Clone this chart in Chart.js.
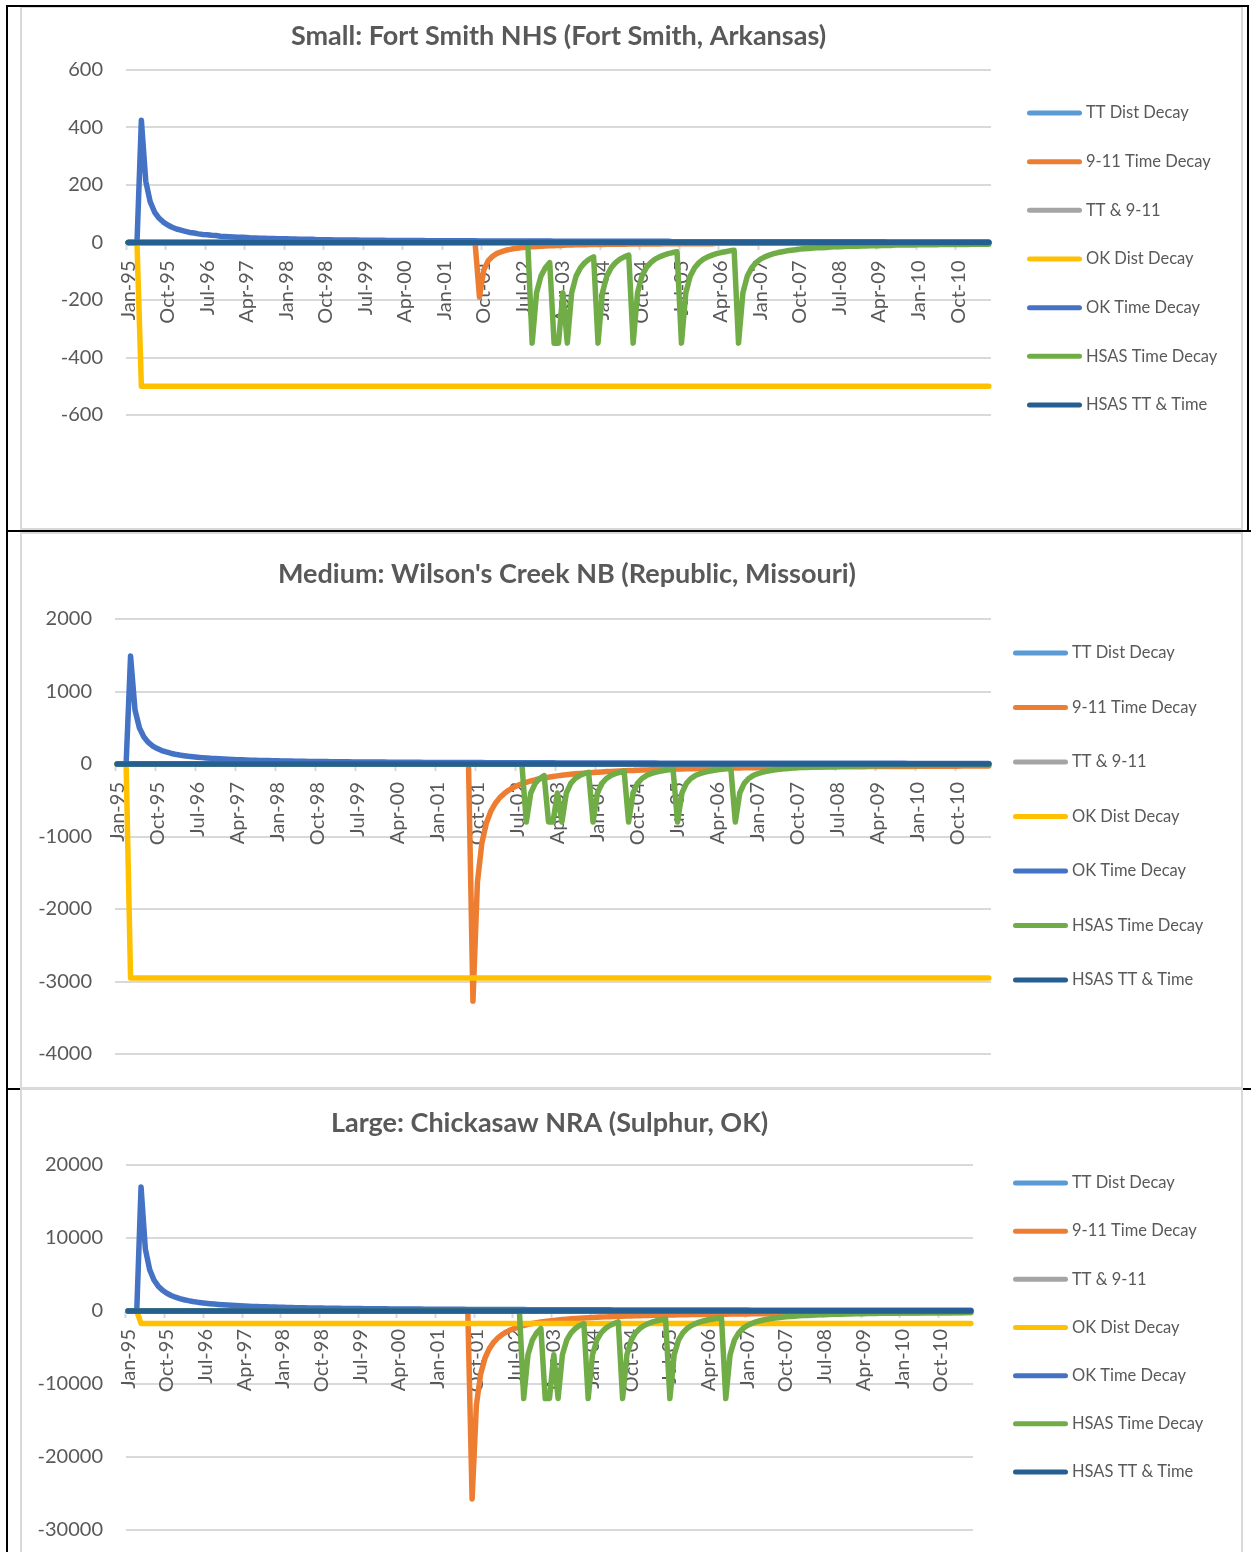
<!DOCTYPE html>
<html>
<head>
<meta charset="utf-8">
<title>Visitation effects at three NPS units</title>
<script src="https://cdn.jsdelivr.net/npm/chart.js@4.4.1/dist/chart.umd.min.js"></script>
<style>
  html, body { margin: 0; padding: 0; background: #fff; }
  body { width: 1251px; height: 1552px; position: relative; overflow: hidden; }
  .panel { position: absolute; box-sizing: border-box; border: 2px solid #d9d9d9; background: #fff; }
  .rule { position: absolute; background: #000; }
  canvas { position: absolute; left: 0; }
</style>
</head>
<body>
<div class="panel" style="left:20px;top:6px;width:1223px;height:524px"></div>
<div class="panel" style="left:20px;top:532px;width:1223px;height:557px"></div>
<div class="panel" style="left:20px;top:1088px;width:1223px;height:480px"></div>

<canvas id="small" width="1251" height="522" style="top:7px"></canvas>
<canvas id="medium" width="1251" height="555" style="top:533px"></canvas>
<canvas id="large" width="1251" height="462" style="top:1090px"></canvas>

<div class="rule" style="left:6px;top:5px;width:2px;height:1547px"></div>
<div class="rule" style="left:6px;top:5px;width:1243px;height:2px"></div>
<div class="rule" style="left:1247px;top:5px;width:2px;height:527px"></div>
<div class="rule" style="left:6px;top:530px;width:1245px;height:2px"></div>
<div class="rule" style="left:6px;top:1088px;width:14px;height:2px"></div>
<div class="rule" style="left:1243px;top:1088px;width:8px;height:2px"></div>

<script>
// ---- Category axis: monthly, Jan-95 onwards ----
const MONTHS = ['Jan', 'Feb', 'Mar', 'Apr', 'May', 'Jun', 'Jul', 'Aug', 'Sep', 'Oct', 'Nov', 'Dec'];
const YEARS = ['95', '96', '97', '98', '99', '00', '01', '02', '03', '04', '05', '06', '07', '08', '09', '10', '11'];
const LABEL_EVERY = 9; // one axis label every 9 months

const SERIES_NAMES = ['TT Dist Decay', '9-11 Time Decay', 'TT & 9-11', 'OK Dist Decay',
                      'OK Time Decay', 'HSAS Time Decay', 'HSAS TT & Time'];
const TITLES = ['Small: Fort Smith NHS (Fort Smith, Arkansas)',
                "Medium: Wilson's Creek NB (Republic, Missouri)",
                'Large: Chickasaw NRA (Sulphur, OK)'];

// Series with no visible effect (one row per year, Jan-95 .. May-11)
const noEffect = [
  0,0,0,0,0,0,0,0,0,0,0,0,
  0,0,0,0,0,0,0,0,0,0,0,0,
  0,0,0,0,0,0,0,0,0,0,0,0,
  0,0,0,0,0,0,0,0,0,0,0,0,
  0,0,0,0,0,0,0,0,0,0,0,0,
  0,0,0,0,0,0,0,0,0,0,0,0,
  0,0,0,0,0,0,0,0,0,0,0,0,
  0,0,0,0,0,0,0,0,0,0,0,0,
  0,0,0,0,0,0,0,0,0,0,0,0,
  0,0,0,0,0,0,0,0,0,0,0,0,
  0,0,0,0,0,0,0,0,0,0,0,0,
  0,0,0,0,0,0,0,0,0,0,0,0,
  0,0,0,0,0,0,0,0,0,0,0,0,
  0,0,0,0,0,0,0,0,0,0,0,0,
  0,0,0,0,0,0,0,0,0,0,0,0,
  0,0,0,0,0,0,0,0,0,0,0,0,
  0,0,0,0,0
];

// ---- Small: Fort Smith NHS ----
const smallNineEleven = [
  0,0,0,0,0,0,0,0,0,0,0,0,
  0,0,0,0,0,0,0,0,0,0,0,0,
  0,0,0,0,0,0,0,0,0,0,0,0,
  0,0,0,0,0,0,0,0,0,0,0,0,
  0,0,0,0,0,0,0,0,0,0,0,0,
  0,0,0,0,0,0,0,0,0,0,0,0,
  0,0,0,0,0,0,0,0,-190,-95,-63,-48,
  -38,-32,-27,-24,-21,-19,-17,-16,-15,-14,-13,-12,
  -11,-11,-10,-10,-9,-9,-8,-8,-8,-7,-7,-7,
  -7,-6,-6,-6,-6,-6,-5,-5,-5,-5,-5,-5,
  -5,-5,-4,-4,-4,-4,-4,-4,-4,-4,-4,-4,
  -4,-4,-3,-3,-3,-3,-3,-3,-3,-3,-3,-3,
  -3,-3,-3,-3,-3,-3,-3,-3,-3,-3,-3,-3,
  -2,-2,-2,-2,-2,-2,-2,-2,-2,-2,-2,-2,
  -2,-2,-2,-2,-2,-2,-2,-2,-2,-2,-2,-2,
  -2,-2,-2,-2,-2,-2,-2,-2,-2,-2,-2,-2,
  -2,-2,-2,-2,-2
];
const smallOkDist = [
  0,0,0,-500,-500,-500,-500,-500,-500,-500,-500,-500,
  -500,-500,-500,-500,-500,-500,-500,-500,-500,-500,-500,-500,
  -500,-500,-500,-500,-500,-500,-500,-500,-500,-500,-500,-500,
  -500,-500,-500,-500,-500,-500,-500,-500,-500,-500,-500,-500,
  -500,-500,-500,-500,-500,-500,-500,-500,-500,-500,-500,-500,
  -500,-500,-500,-500,-500,-500,-500,-500,-500,-500,-500,-500,
  -500,-500,-500,-500,-500,-500,-500,-500,-500,-500,-500,-500,
  -500,-500,-500,-500,-500,-500,-500,-500,-500,-500,-500,-500,
  -500,-500,-500,-500,-500,-500,-500,-500,-500,-500,-500,-500,
  -500,-500,-500,-500,-500,-500,-500,-500,-500,-500,-500,-500,
  -500,-500,-500,-500,-500,-500,-500,-500,-500,-500,-500,-500,
  -500,-500,-500,-500,-500,-500,-500,-500,-500,-500,-500,-500,
  -500,-500,-500,-500,-500,-500,-500,-500,-500,-500,-500,-500,
  -500,-500,-500,-500,-500,-500,-500,-500,-500,-500,-500,-500,
  -500,-500,-500,-500,-500,-500,-500,-500,-500,-500,-500,-500,
  -500,-500,-500,-500,-500,-500,-500,-500,-500,-500,-500,-500,
  -500,-500,-500,-500,-500
];
const smallOkTime = [
  0,0,0,425,213,142,106,85,71,61,53,47,
  43,39,35,33,30,28,27,25,24,22,21,20,
  19,18,18,17,16,16,15,15,14,14,13,13,
  13,12,12,11,11,11,11,10,10,10,10,9,
  9,9,9,9,9,8,8,8,8,8,8,7,
  7,7,7,7,7,7,7,7,6,6,6,6,
  6,6,6,6,6,6,6,6,5,5,5,5,
  5,5,5,5,5,5,5,5,5,5,5,5,
  5,4,4,4,4,4,4,4,4,4,4,4,
  4,4,4,4,4,4,4,4,4,4,4,4,
  4,4,4,4,3,3,3,3,3,3,3,3,
  3,3,3,3,3,3,3,3,3,3,3,3,
  3,3,3,3,3,3,3,3,3,3,3,3,
  3,3,3,3,3,3,3,3,3,3,3,3,
  3,3,3,3,3,2,2,2,2,2,2,2,
  2,2,2,2,2,2,2,2,2,2,2,2,
  2,2,2,2,2
];
const smallHsasTime = [
  0,0,0,0,0,0,0,0,0,0,0,0,
  0,0,0,0,0,0,0,0,0,0,0,0,
  0,0,0,0,0,0,0,0,0,0,0,0,
  0,0,0,0,0,0,0,0,0,0,0,0,
  0,0,0,0,0,0,0,0,0,0,0,0,
  0,0,0,0,0,0,0,0,0,0,0,0,
  0,0,0,0,0,0,0,0,0,0,0,0,
  0,0,0,0,0,0,0,0,-350,-175,-117,-88,
  -70,-350,-350,-175,-350,-175,-117,-88,-70,-58,-50,-350,
  -175,-117,-88,-70,-58,-50,-44,-350,-175,-117,-88,-70,
  -58,-50,-44,-39,-35,-32,-350,-175,-117,-88,-70,-58,
  -50,-44,-39,-35,-32,-29,-27,-350,-175,-117,-88,-70,
  -58,-50,-44,-39,-35,-32,-29,-27,-25,-23,-22,-21,
  -19,-18,-18,-17,-16,-15,-15,-14,-13,-13,-13,-12,
  -12,-11,-11,-11,-10,-10,-10,-9,-9,-9,-9,-9,
  -8,-8,-8,-8,-8,-7,-7,-7,-7,-7,-7,-7,
  -6,-6,-6,-6,-6
];

// ---- Medium: Wilson's Creek NB ----
const mediumNineEleven = [
  0,0,0,0,0,0,0,0,0,0,0,0,
  0,0,0,0,0,0,0,0,0,0,0,0,
  0,0,0,0,0,0,0,0,0,0,0,0,
  0,0,0,0,0,0,0,0,0,0,0,0,
  0,0,0,0,0,0,0,0,0,0,0,0,
  0,0,0,0,0,0,0,0,0,0,0,0,
  0,0,0,0,0,0,0,0,-3270,-1635,-1090,-818,
  -654,-545,-467,-409,-363,-327,-297,-273,-252,-234,-218,-204,
  -192,-182,-172,-164,-156,-149,-142,-136,-131,-126,-121,-117,
  -113,-109,-105,-102,-99,-96,-93,-91,-88,-86,-84,-82,
  -80,-78,-76,-74,-73,-71,-70,-68,-67,-65,-64,-63,
  -62,-61,-59,-58,-57,-56,-55,-55,-54,-53,-52,-51,
  -50,-50,-49,-48,-47,-47,-46,-45,-45,-44,-44,-43,
  -42,-42,-41,-41,-40,-40,-39,-39,-38,-38,-38,-37,
  -37,-36,-36,-36,-35,-35,-34,-34,-34,-33,-33,-33,
  -32,-32,-32,-31,-31,-31,-31,-30,-30,-30,-29,-29,
  -29,-29,-28,-28,-28
];
const mediumOkDist = [
  0,0,0,-2950,-2950,-2950,-2950,-2950,-2950,-2950,-2950,-2950,
  -2950,-2950,-2950,-2950,-2950,-2950,-2950,-2950,-2950,-2950,-2950,-2950,
  -2950,-2950,-2950,-2950,-2950,-2950,-2950,-2950,-2950,-2950,-2950,-2950,
  -2950,-2950,-2950,-2950,-2950,-2950,-2950,-2950,-2950,-2950,-2950,-2950,
  -2950,-2950,-2950,-2950,-2950,-2950,-2950,-2950,-2950,-2950,-2950,-2950,
  -2950,-2950,-2950,-2950,-2950,-2950,-2950,-2950,-2950,-2950,-2950,-2950,
  -2950,-2950,-2950,-2950,-2950,-2950,-2950,-2950,-2950,-2950,-2950,-2950,
  -2950,-2950,-2950,-2950,-2950,-2950,-2950,-2950,-2950,-2950,-2950,-2950,
  -2950,-2950,-2950,-2950,-2950,-2950,-2950,-2950,-2950,-2950,-2950,-2950,
  -2950,-2950,-2950,-2950,-2950,-2950,-2950,-2950,-2950,-2950,-2950,-2950,
  -2950,-2950,-2950,-2950,-2950,-2950,-2950,-2950,-2950,-2950,-2950,-2950,
  -2950,-2950,-2950,-2950,-2950,-2950,-2950,-2950,-2950,-2950,-2950,-2950,
  -2950,-2950,-2950,-2950,-2950,-2950,-2950,-2950,-2950,-2950,-2950,-2950,
  -2950,-2950,-2950,-2950,-2950,-2950,-2950,-2950,-2950,-2950,-2950,-2950,
  -2950,-2950,-2950,-2950,-2950,-2950,-2950,-2950,-2950,-2950,-2950,-2950,
  -2950,-2950,-2950,-2950,-2950,-2950,-2950,-2950,-2950,-2950,-2950,-2950,
  -2950,-2950,-2950,-2950,-2950
];
const mediumOkTime = [
  0,0,0,1490,745,497,373,298,248,213,186,166,
  149,135,124,115,106,99,93,88,83,78,75,71,
  68,65,62,60,57,55,53,51,50,48,47,45,
  44,43,41,40,39,38,37,36,35,35,34,33,
  32,32,31,30,30,29,29,28,28,27,27,26,
  26,25,25,24,24,24,23,23,23,22,22,22,
  21,21,21,20,20,20,20,19,19,19,19,18,
  18,18,18,18,17,17,17,17,17,16,16,16,
  16,16,16,15,15,15,15,15,15,14,14,14,
  14,14,14,14,14,13,13,13,13,13,13,13,
  13,13,12,12,12,12,12,12,12,12,12,12,
  11,11,11,11,11,11,11,11,11,11,11,11,
  10,10,10,10,10,10,10,10,10,10,10,10,
  10,10,10,9,9,9,9,9,9,9,9,9,
  9,9,9,9,9,9,9,9,9,9,8,8,
  8,8,8,8,8,8,8,8,8,8,8,8,
  8,8,8,8,8
];
const mediumHsasTime = [
  0,0,0,0,0,0,0,0,0,0,0,0,
  0,0,0,0,0,0,0,0,0,0,0,0,
  0,0,0,0,0,0,0,0,0,0,0,0,
  0,0,0,0,0,0,0,0,0,0,0,0,
  0,0,0,0,0,0,0,0,0,0,0,0,
  0,0,0,0,0,0,0,0,0,0,0,0,
  0,0,0,0,0,0,0,0,0,0,0,0,
  0,0,0,0,0,0,0,0,-800,-400,-267,-200,
  -160,-800,-800,-400,-800,-400,-267,-200,-160,-133,-114,-800,
  -400,-267,-200,-160,-133,-114,-100,-800,-400,-267,-200,-160,
  -133,-114,-100,-89,-80,-73,-800,-400,-267,-200,-160,-133,
  -114,-100,-89,-80,-73,-67,-62,-800,-400,-267,-200,-160,
  -133,-114,-100,-89,-80,-73,-67,-62,-57,-53,-50,-47,
  -44,-42,-40,-38,-36,-35,-33,-32,-31,-30,-29,-28,
  -27,-26,-25,-24,-24,-23,-22,-22,-21,-21,-20,-20,
  -19,-19,-18,-18,-17,-17,-17,-16,-16,-16,-15,-15,
  -15,-15,-14,-14,-14
];

// ---- Large: Chickasaw NRA ----
const largeNineEleven = [
  0,0,0,0,0,0,0,0,0,0,0,0,
  0,0,0,0,0,0,0,0,0,0,0,0,
  0,0,0,0,0,0,0,0,0,0,0,0,
  0,0,0,0,0,0,0,0,0,0,0,0,
  0,0,0,0,0,0,0,0,0,0,0,0,
  0,0,0,0,0,0,0,0,0,0,0,0,
  0,0,0,0,0,0,0,0,-25750,-12875,-8583,-6438,
  -5150,-4292,-3679,-3219,-2861,-2575,-2341,-2146,-1981,-1839,-1717,-1609,
  -1515,-1431,-1355,-1288,-1226,-1170,-1120,-1073,-1030,-990,-954,-920,
  -888,-858,-831,-805,-780,-757,-736,-715,-696,-678,-660,-644,
  -628,-613,-599,-585,-572,-560,-548,-536,-526,-515,-505,-495,
  -486,-477,-468,-460,-452,-444,-436,-429,-422,-415,-409,-402,
  -396,-390,-384,-379,-373,-368,-363,-358,-353,-348,-343,-339,
  -334,-330,-326,-322,-318,-314,-310,-307,-303,-299,-296,-293,
  -289,-286,-283,-280,-277,-274,-271,-268,-265,-263,-260,-258,
  -255,-252,-250,-248,-245,-243,-241,-238,-236,-234,-232,-230,
  -228,-226,-224,-222,-220
];
const largeOkDist = [
  0,0,0,-1700,-1700,-1700,-1700,-1700,-1700,-1700,-1700,-1700,
  -1700,-1700,-1700,-1700,-1700,-1700,-1700,-1700,-1700,-1700,-1700,-1700,
  -1700,-1700,-1700,-1700,-1700,-1700,-1700,-1700,-1700,-1700,-1700,-1700,
  -1700,-1700,-1700,-1700,-1700,-1700,-1700,-1700,-1700,-1700,-1700,-1700,
  -1700,-1700,-1700,-1700,-1700,-1700,-1700,-1700,-1700,-1700,-1700,-1700,
  -1700,-1700,-1700,-1700,-1700,-1700,-1700,-1700,-1700,-1700,-1700,-1700,
  -1700,-1700,-1700,-1700,-1700,-1700,-1700,-1700,-1700,-1700,-1700,-1700,
  -1700,-1700,-1700,-1700,-1700,-1700,-1700,-1700,-1700,-1700,-1700,-1700,
  -1700,-1700,-1700,-1700,-1700,-1700,-1700,-1700,-1700,-1700,-1700,-1700,
  -1700,-1700,-1700,-1700,-1700,-1700,-1700,-1700,-1700,-1700,-1700,-1700,
  -1700,-1700,-1700,-1700,-1700,-1700,-1700,-1700,-1700,-1700,-1700,-1700,
  -1700,-1700,-1700,-1700,-1700,-1700,-1700,-1700,-1700,-1700,-1700,-1700,
  -1700,-1700,-1700,-1700,-1700,-1700,-1700,-1700,-1700,-1700,-1700,-1700,
  -1700,-1700,-1700,-1700,-1700,-1700,-1700,-1700,-1700,-1700,-1700,-1700,
  -1700,-1700,-1700,-1700,-1700,-1700,-1700,-1700,-1700,-1700,-1700,-1700,
  -1700,-1700,-1700,-1700,-1700,-1700,-1700,-1700,-1700,-1700,-1700,-1700,
  -1700,-1700,-1700,-1700,-1700
];
const largeOkTime = [
  0,0,0,17000,8500,5667,4250,3400,2833,2429,2125,1889,
  1700,1545,1417,1308,1214,1133,1063,1000,944,895,850,810,
  773,739,708,680,654,630,607,586,567,548,531,515,
  500,486,472,459,447,436,425,415,405,395,386,378,
  370,362,354,347,340,333,327,321,315,309,304,298,
  293,288,283,279,274,270,266,262,258,254,250,246,
  243,239,236,233,230,227,224,221,218,215,213,210,
  207,205,202,200,198,195,193,191,189,187,185,183,
  181,179,177,175,173,172,170,168,167,165,163,162,
  160,159,157,156,155,153,152,150,149,148,147,145,
  144,143,142,140,139,138,137,136,135,134,133,132,
  131,130,129,128,127,126,125,124,123,122,121,121,
  120,119,118,117,116,116,115,114,113,113,112,111,
  110,110,109,108,108,107,106,106,105,104,104,103,
  102,102,101,101,100,99,99,98,98,97,97,96,
  96,95,94,94,93,93,92,92,91,91,90,90,
  89,89,88,88,88
];
const largeHsasTime = [
  0,0,0,0,0,0,0,0,0,0,0,0,
  0,0,0,0,0,0,0,0,0,0,0,0,
  0,0,0,0,0,0,0,0,0,0,0,0,
  0,0,0,0,0,0,0,0,0,0,0,0,
  0,0,0,0,0,0,0,0,0,0,0,0,
  0,0,0,0,0,0,0,0,0,0,0,0,
  0,0,0,0,0,0,0,0,0,0,0,0,
  0,0,0,0,0,0,0,0,-12000,-6000,-4000,-3000,
  -2400,-12000,-12000,-6000,-12000,-6000,-4000,-3000,-2400,-2000,-1714,-12000,
  -6000,-4000,-3000,-2400,-2000,-1714,-1500,-12000,-6000,-4000,-3000,-2400,
  -2000,-1714,-1500,-1333,-1200,-1091,-12000,-6000,-4000,-3000,-2400,-2000,
  -1714,-1500,-1333,-1200,-1091,-1000,-923,-12000,-6000,-4000,-3000,-2400,
  -2000,-1714,-1500,-1333,-1200,-1091,-1000,-923,-857,-800,-750,-706,
  -667,-632,-600,-571,-545,-522,-500,-480,-462,-444,-429,-414,
  -400,-387,-375,-364,-353,-343,-333,-324,-316,-308,-300,-293,
  -286,-279,-273,-267,-261,-255,-250,-245,-240,-235,-231,-226,
  -222,-218,-214,-211,-207
];

// ---- Styling ----
const LINE_COLORS = ['#5B9BD5', '#ED7D31', '#A5A5A5', '#FFC000', '#4472C4', '#70AD47', '#255E91'];
const TEXT_COLOR = '#595959';
const GRID_COLOR = '#d9d9d9';
Chart.defaults.font.family = 'Lato, "Open Sans", sans-serif';

// Legend drawn to the right of the plot: a short line sample beside each series name.
const sideLegend = {
  id: 'sideLegend',
  afterDraw(chart, args, o) {
    const ctx = chart.ctx;
    ctx.save();
    ctx.font = o.fontSize + 'px Lato';
    ctx.textBaseline = 'middle';
    ctx.textAlign = 'left';
    ctx.lineCap = 'round';
    ctx.lineWidth = 5;
    chart.data.datasets.forEach((ds, i) => {
      const y = o.top + i * o.step;
      ctx.strokeStyle = ds.borderColor;
      ctx.beginPath();
      ctx.moveTo(o.left + 2.5, y);
      ctx.lineTo(o.left + o.length - 2.5, y);
      ctx.stroke();
      ctx.fillStyle = TEXT_COLOR;
      ctx.fillText(ds.label, o.left + o.length + o.gap, y);
    });
    ctx.restore();
  }
};

// Horizontal offset of the title block relative to the plot area.
const titleOffset = {
  id: 'titleOffset',
  afterLayout(chart, args, o) {
    const block = chart.titleBlock;
    if (block && o.dx) {
      block.left += o.dx;
      block.right += o.dx;
    }
  }
};

function drawPark(canvasId, title, series, axis, frame) {
  const n = series[0].length;
  const labels = YEARS.flatMap(y => MONTHS.map(m => m + '-' + y)).slice(0, n);
  const datasets = series.map((data, i) => ({
    label: SERIES_NAMES[i],
    data,
    borderColor: LINE_COLORS[i],
    backgroundColor: LINE_COLORS[i],
    borderWidth: 5.5,
    borderJoinStyle: 'round',
    borderCapStyle: 'round',
    pointRadius: 0,
    pointHoverRadius: 0,
    tension: 0,
    fill: false,
    order: series.length - i   // later series drawn on top
  }));

  new Chart(document.getElementById(canvasId), {
    type: 'line',
    data: { labels, datasets },
    options: {
      responsive: false,
      animation: false,
      devicePixelRatio: 1,
      events: [],
      layout: { padding: { left: 0, top: 0, right: frame.padRight, bottom: frame.padBottom } },
      plugins: {
        legend: { display: false },
        tooltip: { enabled: false },
        title: {
          display: true,
          text: title,
          fullSize: false,
          color: TEXT_COLOR,
          font: { family: 'Lato', size: 27, weight: 'bold', lineHeight: 1 },
          padding: { top: frame.titleTop, bottom: frame.titleBottom }
        },
        titleOffset: { dx: frame.titleDx },
        sideLegend: frame.legend
      },
      scales: {
        x: {
          type: 'category',
          offset: true,
          position: { y: 0 },
          grid: {
            display: true,
            offset: true,
            drawOnChartArea: false,
            drawTicks: true,
            tickLength: 6,
            tickWidth: 2,
            tickColor: c => (c.index % LABEL_EVERY === 0 ? GRID_COLOR : 'rgba(0,0,0,0)')
          },
          border: { display: true, color: GRID_COLOR, width: 2 },
          ticks: {
            autoSkip: false,
            minRotation: 90,
            maxRotation: 90,
            padding: 12,
            color: TEXT_COLOR,
            font: { family: 'Lato', size: 20 },
            callback: (v, i) => (i % LABEL_EVERY === 0 ? labels[i] : '')
          }
        },
        y: {
          min: axis.min,
          max: axis.max,
          grid: { color: GRID_COLOR, lineWidth: 2, drawTicks: false },
          border: { display: false },
          ticks: {
            stepSize: axis.step,
            padding: 23,
            color: TEXT_COLOR,
            font: { family: 'Lato', size: 20 },
            callback: v => String(v)
          },
          afterFit: s => {
            s.width = frame.plotLeft;
            s.paddingTop = 0;
            s.paddingBottom = 0;
          }
        }
      }
    },
    plugins: [titleOffset, sideLegend]
  });
}

drawPark('small', TITLES[0],
  [noEffect, smallNineEleven, noEffect, smallOkDist, smallOkTime, smallHsasTime, noEffect],
  { min: -600, max: 600, step: 200 },
  { plotLeft: 126, padRight: 260, padBottom: 114, titleTop: 16, titleBottom: 20, titleDx: 0,
    legend: { left: 1027, top: 106, step: 48.67, length: 55, gap: 4, fontSize: 16.5 } });

drawPark('medium', TITLES[1],
  [noEffect, mediumNineEleven, noEffect, mediumOkDist, mediumOkTime, mediumHsasTime, noEffect],
  { min: -4000, max: 2000, step: 1000 },
  { plotLeft: 115, padRight: 260, padBottom: 34, titleTop: 27.5, titleBottom: 31.5, titleDx: 14,
    legend: { left: 1013, top: 120, step: 54.5, length: 55, gap: 4, fontSize: 16.5 } });

drawPark('large', TITLES[2],
  [noEffect, largeNineEleven, noEffect, largeOkDist, largeOkTime, largeHsasTime, noEffect],
  { min: -30000, max: 20000, step: 10000 },
  { plotLeft: 126, padRight: 278, padBottom: 22, titleTop: 19.5, titleBottom: 28.5, titleDx: 0,
    legend: { left: 1013, top: 93, step: 48.17, length: 55, gap: 4, fontSize: 16.5 } });
</script>
</body>
</html>
